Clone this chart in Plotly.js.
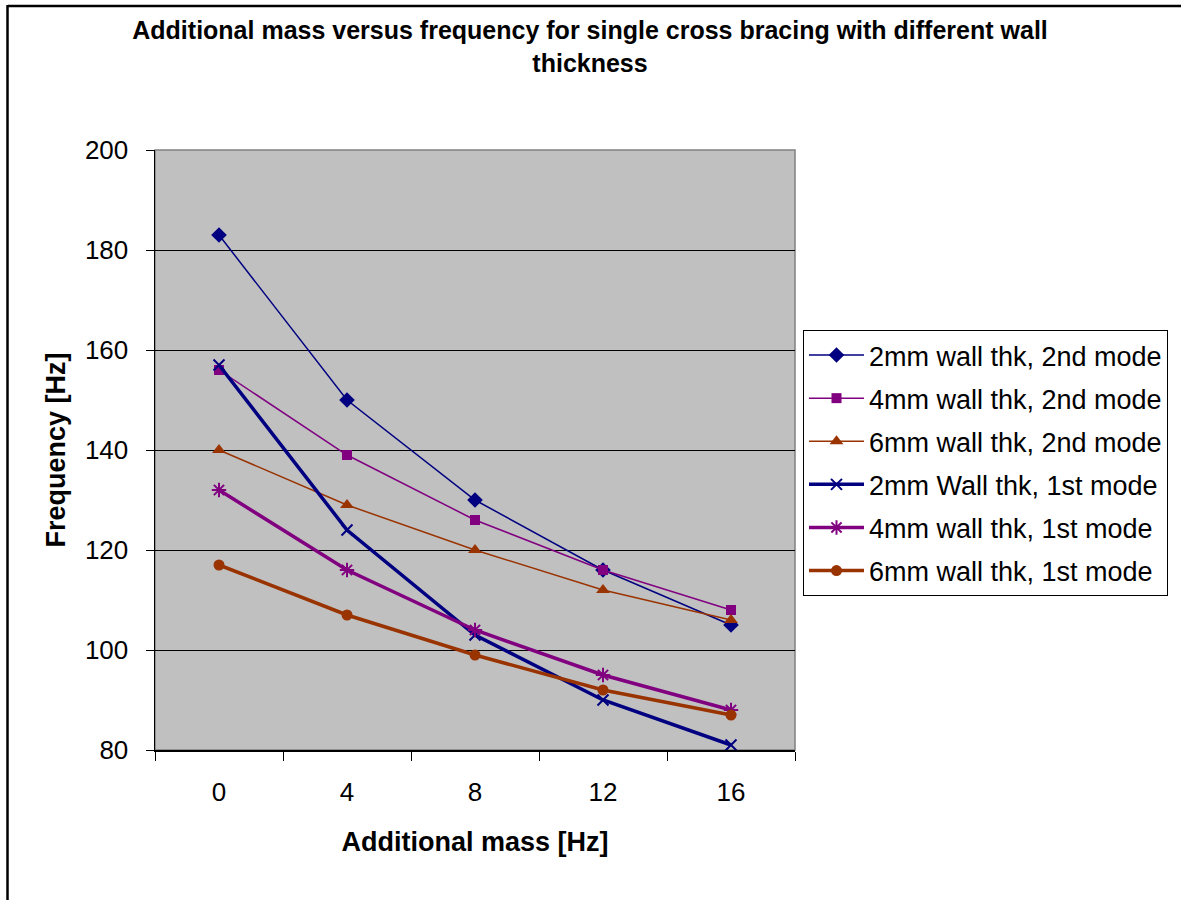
<!DOCTYPE html>
<html>
<head>
<meta charset="utf-8">
<script src="https://cdn.plot.ly/plotly-3.0.1.min.js"></script>
<style>
  html, body { margin: 0; padding: 0; background: #ffffff; }
  #chart { width: 1181px; height: 900px; }
</style>
</head>
<body>
<div id="chart"></div>
<script>
// Additional mass categories (x axis)
const massLabels = ['0', '4', '8', '12', '16'];

// Frequencies [Hz] per wall thickness and mode
const wall2mmMode2 = [183, 150, 130, 116, 105];
const wall4mmMode2 = [156, 139, 126, 116, 108];
const wall6mmMode2 = [140, 129, 120, 112, 106];
const wall2mmMode1 = [157, 124, 103, 90, 81];
const wall4mmMode1 = [132, 116, 104, 95, 88];
const wall6mmMode1 = [117, 107, 99, 92, 87];

const seriesNames = [
  '2mm wall thk, 2nd mode',
  '4mm wall thk, 2nd mode',
  '6mm wall thk, 2nd mode',
  '2mm Wall thk, 1st mode',
  '4mm wall thk, 1st mode',
  '6mm wall thk, 1st mode'
];

const NAVY = '#000080', PURPLE = '#800080', BROWN = '#993300';

function series(name, values, color, width, symbol, size, group, open) {
  return {
    type: 'scatter',
    mode: 'lines+markers',
    name: name,
    legendgroup: group,
    x: massLabels,
    y: values,
    line: { color: color, width: width },
    marker: open
      ? { symbol: symbol, size: size, color: color, line: { color: color, width: 2 } }
      : { symbol: symbol, size: size, color: color, line: { width: 0 } },
    hoverinfo: 'x+y+name'
  };
}

const traces = [
  series(seriesNames[0], wall2mmMode2, NAVY, 1.5, 'diamond', 12, 'a', false),
  series(seriesNames[1], wall4mmMode2, PURPLE, 1.5, 'square', 10, 'b', false),
  series(seriesNames[2], wall6mmMode2, BROWN, 1.5, 'triangle-up', 12, 'c', false),
  series(seriesNames[3], wall2mmMode1, NAVY, 3.5, 'x-thin-open', 11, 'd', true),
  series(seriesNames[4], wall4mmMode1, PURPLE, 3.5, 'asterisk-open', 12, 'e', true),
  series(seriesNames[5], wall6mmMode1, BROWN, 3.5, 'circle', 11, 'f', false)
];

const FONT = 'Liberation Sans, Arial, sans-serif';

const layout = {
  width: 1181,
  height: 900,
  margin: { l: 155, r: 386, t: 150, b: 150, autoexpand: false },
  paper_bgcolor: '#ffffff',
  plot_bgcolor: '#c0c0c0',
  font: { family: FONT, color: '#000000', size: 26 },
  showlegend: true,
  title: {
    text: 'Additional mass versus frequency for single cross bracing with different wall<br>thickness',
    font: { family: FONT, size: 25, weight: 'bold', color: '#000000' },
    x: 0.4996,
    xanchor: 'center',
    xref: 'container',
    y: 1 - 39 / 900,
    yanchor: 'middle',
    yref: 'container'
  },
  xaxis: {
    type: 'category',
    range: [-0.5, 4.5],
    tickson: 'boundaries',
    ticks: 'outside',
    ticklen: 9,
    tickcolor: '#000000',
    tickwidth: 1,
    showline: true,
    linecolor: '#000000',
    linewidth: 1.5,
    showgrid: false,
    zeroline: false,
    tickfont: { family: FONT, size: 26 },
    ticklabelstandoff: 18,
    title: {
      text: 'Additional mass [Hz]',
      font: { family: FONT, size: 27, weight: 'bold' },
      standoff: 26
    }
  },
  yaxis: {
    range: [80, 200],
    dtick: 20,
    ticks: 'outside',
    ticklen: 8,
    tickcolor: '#000000',
    tickwidth: 1,
    showline: true,
    linecolor: '#000000',
    linewidth: 1.5,
    showgrid: true,
    gridcolor: '#000000',
    gridwidth: 1,
    zeroline: false,
    tickfont: { family: FONT, size: 26 },
    ticklabelstandoff: 12,
    title: {
      text: 'Frequency [Hz]',
      font: { family: FONT, size: 27, weight: 'bold' },
      standoff: 11
    }
  },
  legend: {
    x: (803 - 155) / 640,
    xanchor: 'left',
    y: (750 - 330) / 600,
    yanchor: 'top',
    bgcolor: '#ffffff',
    bordercolor: '#000000',
    borderwidth: 1,
    font: { family: FONT, size: 27, color: '#000000' },
    traceorder: 'grouped',
    tracegroupgap: 5,
    itemwidth: 55
  },
  shapes: [
    // gray frame round the plotting area
    { type: 'rect', xref: 'paper', yref: 'paper', x0: 0, x1: 1, y0: 0, y1: 1,
      line: { color: '#808080', width: 1.5 }, layer: 'below' },
    // outer chart frame (top and left edges)
    { type: 'line', xref: 'paper', yref: 'paper',
      x0: (8 - 155) / 640, x1: (1185 - 155) / 640,
      y0: (750 - 6) / 600, y1: (750 - 6) / 600,
      line: { color: '#000000', width: 2.5 } },
    { type: 'line', xref: 'paper', yref: 'paper',
      x0: (7.5 - 155) / 640, x1: (7.5 - 155) / 640,
      y0: (750 - 5) / 600, y1: (750 - 905) / 600,
      line: { color: '#000000', width: 2.5 } }
  ]
};

Plotly.newPlot('chart', traces, layout, { displayModeBar: false, staticPlot: true });
</script>
</body>
</html>
